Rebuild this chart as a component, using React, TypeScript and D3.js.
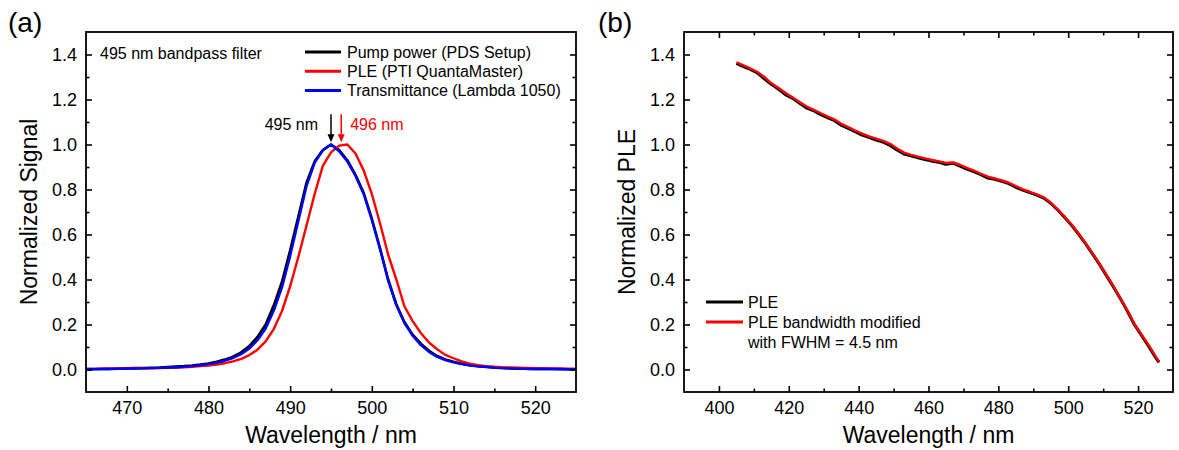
import React, { useEffect, useRef } from 'react';
import * as d3 from 'd3';

const W = 1179;
const H = 450;
const FONT = '"Liberation Sans", Arial, Helvetica, sans-serif';

// ---------- Panel (a) data ----------
const wavelengthA = [
  465, 466, 467, 468, 469, 470, 471, 472, 473, 474,
  475, 476, 477, 478, 479, 480, 481, 482, 483, 484,
  485, 486, 487, 488, 489, 490, 491, 492, 493, 494,
  495, 496, 497, 498, 499, 500, 501, 502, 503, 504,
  505, 506, 507, 508, 509, 510, 511, 512, 513, 514,
  515, 516, 517, 518, 519, 520, 521, 522, 523, 524,
  525,
];
const pumpPower = [
  0.002, 0.002, 0.003, 0.003, 0.004, 0.005, 0.006, 0.007, 0.008, 0.009,
  0.011, 0.013, 0.015, 0.018, 0.022, 0.027, 0.034, 0.044, 0.057, 0.076,
  0.104, 0.145, 0.2, 0.285, 0.39, 0.53, 0.68, 0.83, 0.925, 0.975,
  1.0, 0.975, 0.93, 0.865, 0.785, 0.67, 0.54, 0.4, 0.29, 0.21,
  0.155, 0.115, 0.083, 0.06, 0.045, 0.034, 0.026, 0.02, 0.015, 0.012,
  0.009, 0.007, 0.005, 0.004, 0.003, 0.003, 0.002, 0.002, 0.002, 0.001,
  0.001,
];
const pleA = [
  0.003, 0.003, 0.003, 0.004, 0.004, 0.004, 0.005, 0.005, 0.005, 0.006,
  0.007, 0.008, 0.01, 0.012, 0.015, 0.018, 0.022, 0.028, 0.036, 0.047,
  0.064, 0.088, 0.125, 0.18, 0.26, 0.37, 0.5, 0.64, 0.78, 0.905,
  0.965, 0.995, 1.0, 0.96, 0.885, 0.78, 0.65, 0.51, 0.4, 0.28,
  0.215, 0.162, 0.12, 0.09, 0.065, 0.05, 0.036, 0.026, 0.019, 0.015,
  0.012, 0.01, 0.009, 0.008, 0.007, 0.006, 0.006, 0.005, 0.005, 0.004,
  0.004,
];
const transmittance = [
  0.001, 0.001, 0.002, 0.002, 0.003, 0.003, 0.004, 0.005, 0.006, 0.007,
  0.008, 0.01, 0.012, 0.015, 0.019, 0.024, 0.03, 0.039, 0.051, 0.068,
  0.093, 0.13, 0.182, 0.262, 0.365, 0.505, 0.66, 0.815, 0.918, 0.975,
  1.0, 0.97, 0.925, 0.86, 0.78, 0.665, 0.535, 0.395, 0.285, 0.205,
  0.15, 0.108, 0.078, 0.056, 0.042, 0.032, 0.024, 0.018, 0.014, 0.011,
  0.008, 0.006, 0.005, 0.004, 0.003, 0.002, 0.002, 0.002, 0.001, 0.001,
  0.001,
];
const xTicksA = [470, 480, 490, 500, 510, 520];
const xMinorA = [475, 485, 495, 505, 515];

// ---------- Panel (b) data ----------
const wavelengthB = [
  405, 407, 409, 411, 413, 415, 417, 419, 421, 423,
  425, 427, 429, 431, 433, 435, 437, 439, 441, 443,
  445, 447, 449, 451, 453, 455, 457, 459, 461, 463,
  465, 467, 469, 471, 473, 475, 477, 479, 481, 483,
  485, 487, 489, 491, 493, 495, 497, 499, 501, 503,
  505, 507, 509, 511, 513, 515, 517, 519, 521, 523,
  525, 526,
];
const pleB = [
  1.36, 1.346, 1.334, 1.318, 1.292, 1.268, 1.246, 1.222, 1.206, 1.184,
  1.163, 1.151, 1.134, 1.12, 1.107, 1.086, 1.072, 1.057, 1.042, 1.032,
  1.02, 1.011, 0.996, 0.976, 0.958, 0.95, 0.941, 0.933, 0.926, 0.921,
  0.912, 0.917, 0.904, 0.891, 0.879, 0.866, 0.851, 0.845, 0.836, 0.826,
  0.81, 0.797, 0.786, 0.775, 0.762, 0.739, 0.709, 0.676, 0.641, 0.601,
  0.558, 0.513, 0.466, 0.416, 0.366, 0.313, 0.258, 0.198, 0.152, 0.104,
  0.054, 0.032,
];
const pleModified = [
  1.365, 1.352, 1.338, 1.322, 1.3, 1.272, 1.252, 1.23, 1.21, 1.19,
  1.17, 1.155, 1.14, 1.125, 1.112, 1.092, 1.077, 1.062, 1.048, 1.036,
  1.026, 1.016, 1.003, 0.982, 0.964, 0.954, 0.946, 0.938, 0.931, 0.925,
  0.918, 0.92, 0.91, 0.896, 0.884, 0.87, 0.857, 0.849, 0.84, 0.83,
  0.815, 0.801, 0.79, 0.778, 0.765, 0.742, 0.712, 0.678, 0.643, 0.603,
  0.56, 0.515, 0.468, 0.418, 0.368, 0.315, 0.26, 0.2, 0.155, 0.108,
  0.058, 0.035,
];
const xTicksB = [400, 420, 440, 460, 480, 500, 520];
const xMinorB = [410, 430, 450, 470, 490, 510];

// ---------- shared ----------
const yTicks = [0, 0.2, 0.4, 0.6, 0.8, 1.0, 1.2, 1.4];
const yMinor = [0.1, 0.3, 0.5, 0.7, 0.9, 1.1, 1.3];
const yDomain = [-0.1, 1.5];

const legendA = [
  { label: 'Pump power (PDS Setup)', color: '#000000' },
  { label: 'PLE (PTI QuantaMaster)', color: '#ff0000' },
  { label: 'Transmittance (Lambda 1050)', color: '#0000ff' },
];
const legendB = [
  { label: 'PLE', color: '#000000' },
  { label: 'PLE bandwidth modified', color: '#ff0000' },
];

const TOP = 32;
const BOTTOM = 392;

type AxesProps = {
  x: d3.ScaleLinear<number, number>;
  y: d3.ScaleLinear<number, number>;
  xMajor: number[];
  xMinor: number[];
  topTicks: boolean;
};

function Axes({ x, y, xMajor, xMinor, topTicks }: AxesProps) {
  const ref = useRef<SVGGElement>(null);
  useEffect(() => {
    const g = d3.select(ref.current);
    g.selectAll('*').remove();
    const [x0, x1] = x.range();
    const [y0, y1] = y.range();
    const style = (sel: any) => {
      sel.select('.domain').remove();
      sel.attr('font-family', null).attr('font-size', null);
      sel.selectAll('line').attr('stroke', '#000').attr('stroke-width', 1.6);
      sel.selectAll('text').attr('font-family', FONT).attr('font-size', 18).attr('fill', '#000');
    };
    const none = () => '';
    g.append('g').attr('transform', `translate(0,${y0})`)
      .call(d3.axisBottom(x).tickValues(xMajor).tickSize(-6).tickPadding(9).tickFormat(d3.format('d')))
      .call(style);
    g.append('g').attr('transform', `translate(0,${y0})`)
      .call(d3.axisBottom(x).tickValues(xMinor).tickSize(-3.5).tickFormat(none))
      .call(style);
    if (topTicks) {
      g.append('g').attr('transform', `translate(0,${y1})`)
        .call(d3.axisTop(x).tickValues(xMajor).tickSize(-6).tickFormat(none))
        .call(style);
      g.append('g').attr('transform', `translate(0,${y1})`)
        .call(d3.axisTop(x).tickValues(xMinor).tickSize(-3.5).tickFormat(none))
        .call(style);
    }
    g.append('g').attr('transform', `translate(${x0},0)`)
      .call(d3.axisLeft(y).tickValues(yTicks).tickSize(-6).tickPadding(9).tickFormat(d3.format('.1f')))
      .call(style);
    g.append('g').attr('transform', `translate(${x0},0)`)
      .call(d3.axisLeft(y).tickValues(yMinor).tickSize(-3.5).tickFormat(none))
      .call(style);
    g.append('g').attr('transform', `translate(${x1},0)`)
      .call(d3.axisRight(y).tickValues(yTicks).tickSize(-6).tickFormat(none))
      .call(style);
    g.append('g').attr('transform', `translate(${x1},0)`)
      .call(d3.axisRight(y).tickValues(yMinor).tickSize(-3.5).tickFormat(none))
      .call(style);
    g.append('rect')
      .attr('x', x0).attr('y', y1).attr('width', x1 - x0).attr('height', y0 - y1)
      .attr('fill', 'none').attr('stroke', '#000').attr('stroke-width', 1.8);
  }, [x, y, xMajor, xMinor, topTicks]);
  return <g ref={ref} />;
}

export default function App() {
  const xA = d3.scaleLinear().domain([465, 525]).range([86, 576]);
  const yA = d3.scaleLinear().domain(yDomain).range([BOTTOM, TOP]);
  const xB = d3.scaleLinear().domain([390, 530]).range([684, 1173]);
  const yB = d3.scaleLinear().domain(yDomain).range([BOTTOM, TOP]);

  const lineA = (vals: number[]) =>
    d3.line<number>().x((_, i) => xA(wavelengthA[i])).y((d) => yA(d))(vals) || '';
  const lineB = (vals: number[]) =>
    d3.line<number>().x((_, i) => xB(wavelengthB[i])).y((d) => yB(d))(vals) || '';

  const arrowBlackX = xA(495);
  const arrowRedX = xA(496.25);
  const arrowTop = yA(1.135);
  const arrowTip = yA(1.01);

  const arrow = (ax: number, color: string) => (
    <g>
      <line x1={ax} x2={ax} y1={arrowTop} y2={arrowTip - 6} stroke={color} strokeWidth={1.5} />
      <polygon
        points={`${ax - 3.5},${arrowTip - 8} ${ax + 3.5},${arrowTip - 8} ${ax},${arrowTip}`}
        fill={color}
      />
    </g>
  );

  return (
    <svg
      width={W}
      height={H}
      style={{ position: 'absolute', left: 0, top: 0, background: '#fff' }}
      fontFamily={FONT}
    >
      <rect x={0} y={0} width={W} height={H} fill="#fff" />

      {/* Panel (a) */}
      <text x={8} y={32} fontSize={28}>(a)</text>
      <path d={lineA(pumpPower)} fill="none" stroke="#000" strokeWidth={2.6} strokeLinejoin="round" />
      <path d={lineA(pleA)} fill="none" stroke="#ff0000" strokeWidth={2.4} strokeLinejoin="round" />
      <path d={lineA(transmittance)} fill="none" stroke="#0000ff" strokeWidth={2.4} strokeLinejoin="round" />
      <Axes x={xA} y={yA} xMajor={xTicksA} xMinor={xMinorA} topTicks={false} />
      <text x={100} y={53} fontSize={16} dy="0.35em">495 nm bandpass filter</text>
      {legendA.map((d, i) => (
        <g key={d.label}>
          <line x1={305} x2={341} y1={52 + i * 19.3} y2={52 + i * 19.3} stroke={d.color} strokeWidth={3} />
          <text x={347} y={52 + i * 19.3} dy="0.35em" fontSize={16}>{d.label}</text>
        </g>
      ))}
      {arrow(arrowBlackX, '#000')}
      {arrow(arrowRedX, '#ff0000')}
      <text x={arrowBlackX - 13} y={124} dy="0.35em" fontSize={16} textAnchor="end">495 nm</text>
      <text x={arrowRedX + 9} y={124} dy="0.35em" fontSize={16} fill="#ff0000">496 nm</text>
      <text x={331} y={443} fontSize={23} textAnchor="middle">Wavelength / nm</text>
      <text transform={`translate(37,212) rotate(-90)`} fontSize={23} textAnchor="middle">Normalized Signal</text>

      {/* Panel (b) */}
      <text x={598} y={32} fontSize={28}>(b)</text>
      <path d={lineB(pleB)} fill="none" stroke="#000" strokeWidth={3} strokeLinejoin="round" />
      <path d={lineB(pleModified)} fill="none" stroke="#ff0000" strokeWidth={2.4} strokeLinejoin="round" />
      <Axes x={xB} y={yB} xMajor={xTicksB} xMinor={xMinorB} topTicks={true} />
      {legendB.map((d, i) => (
        <g key={d.label}>
          <line x1={706} x2={743} y1={302 + i * 20} y2={302 + i * 20} stroke={d.color} strokeWidth={3} />
          <text x={748} y={302 + i * 20} dy="0.35em" fontSize={16}>{d.label}</text>
        </g>
      ))}
      <text x={748} y={342} dy="0.35em" fontSize={16}>with FWHM = 4.5 nm</text>
      <text x={928.5} y={443} fontSize={23} textAnchor="middle">Wavelength / nm</text>
      <text transform={`translate(635,212) rotate(-90)`} fontSize={23} textAnchor="middle">Normalized PLE</text>
    </svg>
  );
}
